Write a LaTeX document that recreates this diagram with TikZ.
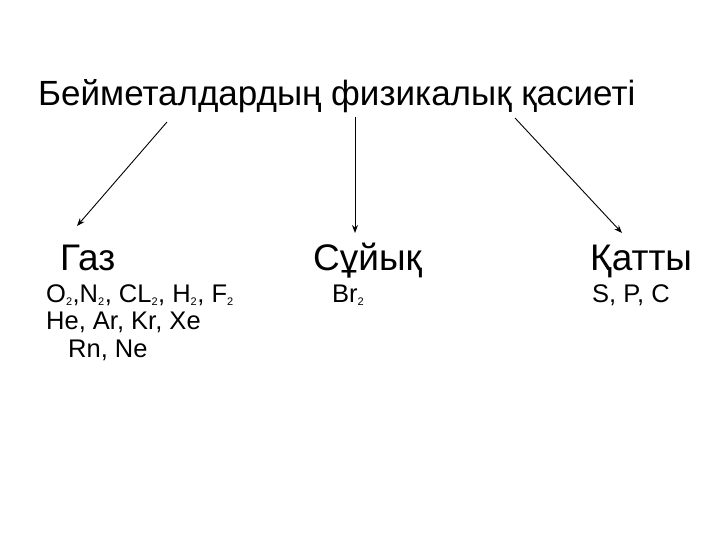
\documentclass[tikz,border=0pt]{standalone}
\usepackage{fontspec}
\setmainfont{Liberation Sans}
\usetikzlibrary{arrows.meta}
\newcommand{\subtwo}{\textsubscript{\fontsize{11}{11}\selectfont 2}}
\begin{document}
\begin{tikzpicture}[x=1pt,y=-1pt,
  arr/.style={draw,line width=0.9pt,-{Stealth[length=8pt,width=6pt]}},
  big/.style={anchor=base west,inner sep=0pt,font=\fontsize{35}{40}\selectfont},
  mid/.style={anchor=base west,inner sep=0pt,font=\fontsize{37}{42}\selectfont},
  sm/.style={anchor=base west,inner sep=0pt,font=\fontsize{25.5}{30}\selectfont}]
\fill[white] (0,0) rectangle (720,540);
\node[big] (t) at (38,106) {Бейметалдардың физикалық қасиеті};
\coordinate (s1) at (167,122); \coordinate (e1) at (77,226);
\coordinate (s2) at (355,117); \coordinate (e2) at (355,233);
\coordinate (s3) at (515,118); \coordinate (e3) at (622,233);
\draw[arr] (s1) -- (e1);
\draw[arr] (s2) -- (e2);
\draw[arr] (s3) -- (e3);
\node[mid] (g) at (60,270) {Газ};
\node[mid] (l) at (313,270) {Сұйық};
\node[mid] (q) at (590,270) {Қатты};
\node[sm] (a1) at (46,302) {O\subtwo,N\subtwo, CL\subtwo, H\subtwo, F\subtwo};
\node[sm] (a2) at (46,329) {He, Ar, Kr, Xe};
\node[sm] (a3) at (68,357) {Rn, Ne};
\node[sm] (b) at (332,302) {Br\subtwo};
\node[sm] (c) at (592,302) {S, P, C};
\end{tikzpicture}
\end{document}
